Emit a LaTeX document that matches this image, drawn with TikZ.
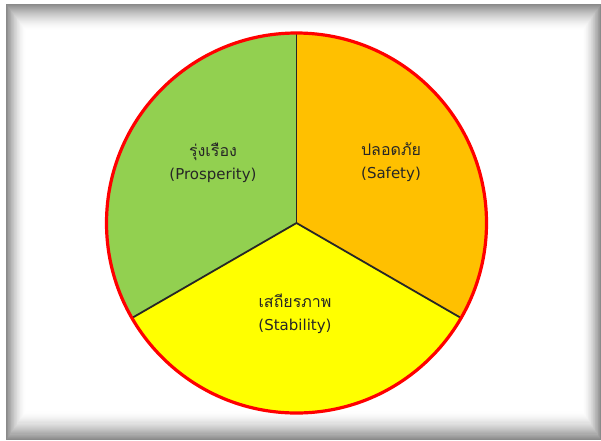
\documentclass[tikz,border=0pt]{standalone}
\usepackage{fontspec}
\setmainfont{DejaVu Sans}
\newfontfamily\thaifont[Script=Thai]{Loma}

\definecolor{pgreen}{HTML}{92D050}
\definecolor{porange}{HTML}{FFC000}
\definecolor{pyellow}{HTML}{FFFF00}

\tikzset{
    label/.style={align=center,font=\fontsize{15}{23}\selectfont,text=black!85},
    spoke/.style={line width=1.8pt,draw=black!85}
}

\begin{document}
\begin{tikzpicture}[x=1pt,y=-1pt]
    \useasboundingbox (0,0) rectangle (601,440);
    \fill[white] (0,0) rectangle (601,440);

    % frame
    \foreach \i in {0,...,26}{
        \pgfmathsetmacro{\pct}{46*(1-\i/26)^1.6}
        \fill[black!\pct] (6+0.75*\i,4+\i) rectangle (601-0.7*\i,440-1.1*\i);
    }

    \coordinate (c) at (296.5,223);
    \def\rad{190}

    % sectors (y runs downwards)
    \fill[pgreen] (c) -- ++(150:\rad) arc[start angle=150,end angle=270,radius=\rad] -- cycle;
    \fill[porange] (c) -- ++(270:\rad) arc[start angle=270,end angle=390,radius=\rad] -- cycle;
    \fill[pyellow] (c) -- ++(30:\rad) arc[start angle=30,end angle=150,radius=\rad] -- cycle;

    \path (c) ++(270:\rad) coordinate (top);
    \path (c) ++(150:\rad) coordinate (left);
    \path (c) ++(30:\rad) coordinate (right);

    \draw[spoke] (c) -- (top);
    \draw[spoke] (c) -- (left);
    \draw[spoke] (c) -- (right);

    \draw[red,line width=3.2pt] (c) circle[radius=\rad];

    \node[label] (prosperity) at (213,163) {{\thaifont\fontsize{16}{23}\selectfont รุ่งเรือง}\\(Prosperity)};
    \node[label] (safety) at (391,162) {{\thaifont\fontsize{16}{23}\selectfont ปลอดภัย}\\(Safety)};
    \node[label] (stability) at (295,314) {{\thaifont\fontsize{16}{23}\selectfont เสถียรภาพ}\\(Stability)};
\end{tikzpicture}
\end{document}
